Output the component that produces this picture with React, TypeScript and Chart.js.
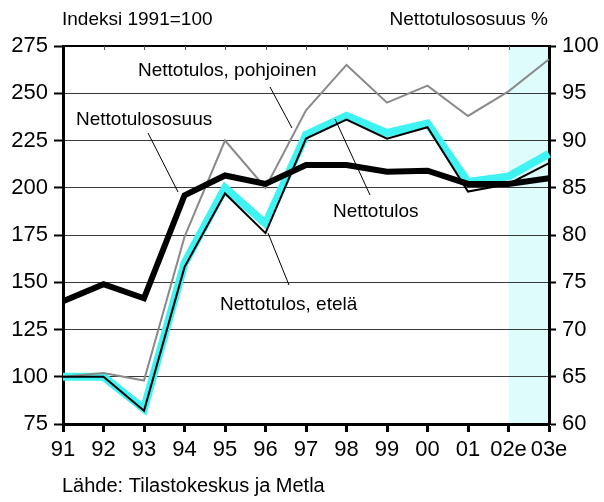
import React, { useEffect, useRef } from "react";
import { Chart, registerables } from "chart.js";

Chart.register(...registerables);

const years = ["91", "92", "93", "94", "95", "96", "97", "98", "99", "00", "01", "02e", "03e"];
const nettotulos = [100, 100, 82, 158, 197, 176, 226, 236, 226, 232, 198, 202, 213];
const nettotulosEtela = [100, 100, 83, 160, 200, 181, 228, 238, 229, 234, 203, 206, 218];
const nettotulosPohjoinen = [100, 102, 98, 174, 225, 200, 241, 265, 245, 254, 238, 251, 268];
const nettotulososuus = [73.0, 74.8, 73.3, 84.2, 86.3, 85.4, 87.4, 87.4, 86.7, 86.8, 85.4, 85.4, 86.0];

const leftTicks = [75, 100, 125, 150, 175, 200, 225, 250, 275];
const rightTicks = [60, 65, 70, 75, 80, 85, 90, 95, 100];

const FONT = "'Liberation Sans', Arial, sans-serif";

const labels = [
  { text: "Nettotulos, pohjoinen", x: 138, y: 71, line: [270, 87, 292, 128] },
  { text: "Nettotulososuus", x: 76, y: 120, line: [148, 133, 178, 192] },
  { text: "Nettotulos", x: 333, y: 212, line: [370, 195, 335, 119] },
  { text: "Nettotulos, etelä", x: 220, y: 305, line: [268, 233, 289, 285] },
];

const decoPlugin = {
  id: "deco",
  beforeDraw(chart: any) {
    const { ctx, chartArea, scales } = chart;
    const x = scales.x;
    const x0 = x.getPixelForValue(11);
    const x1 = x.getPixelForValue(12);
    ctx.save();
    ctx.fillStyle = "#defcfc";
    ctx.fillRect(x0, chartArea.top, x1 - x0, chartArea.bottom - chartArea.top);
    ctx.restore();
  },
  afterDraw(chart: any) {
    const { ctx, chartArea, scales } = chart;
    ctx.save();
    ctx.strokeStyle = "#000";
    ctx.lineWidth = 2;
    ctx.beginPath();
    ctx.moveTo(chartArea.left, chartArea.top);
    ctx.lineTo(chartArea.right, chartArea.top);
    ctx.stroke();
    ctx.lineWidth = 1;
    ctx.strokeStyle = "#555";
    for (let i = 1; i < years.length - 1; i++) {
      const px = Math.round(scales.x.getPixelForValue(i)) + 0.5;
      ctx.beginPath();
      ctx.moveTo(px, chartArea.top);
      ctx.lineTo(px, chartArea.top + 4);
      ctx.stroke();
    }
    ctx.fillStyle = "#000";
    ctx.textBaseline = "middle";
    ctx.font = `19px ${FONT}`;
    ctx.textAlign = "left";
    for (const l of labels) {
      ctx.fillText(l.text, l.x, l.y);
      ctx.strokeStyle = "#000";
      ctx.lineWidth = 1;
      ctx.beginPath();
      ctx.moveTo(l.line[0], l.line[1]);
      ctx.lineTo(l.line[2], l.line[3]);
      ctx.stroke();
    }
    ctx.font = `19px ${FONT}`;
    ctx.textAlign = "left";
    ctx.fillText("Indeksi 1991=100", 62, 20);
    ctx.textAlign = "right";
    ctx.fillText("Nettotulososuus %", 548, 20);
    ctx.font = `20px ${FONT}`;
    ctx.textAlign = "left";
    ctx.fillText("Lähde: Tilastokeskus ja Metla", 62, 486);
    ctx.restore();
  },
};

export default function App() {
  const ref = useRef<HTMLCanvasElement>(null);
  useEffect(() => {
    if (!ref.current) return;
    const chart = new Chart(ref.current, {
      type: "line",
      data: {
        labels: years,
        datasets: [
          {
            label: "Nettotulos, etelä",
            data: nettotulosEtela,
            borderColor: "#3ff3f3",
            borderWidth: 8,
            pointRadius: 0,
            tension: 0,
            yAxisID: "y",
            order: 4,
          },
          {
            label: "Nettotulos, pohjoinen",
            data: nettotulosPohjoinen,
            borderColor: "#8a8a8a",
            borderWidth: 2,
            pointRadius: 0,
            tension: 0,
            yAxisID: "y",
            order: 3,
          },
          {
            label: "Nettotulososuus",
            data: nettotulososuus,
            borderColor: "#000",
            borderWidth: 6,
            pointRadius: 0,
            tension: 0,
            yAxisID: "y2",
            order: 2,
          },
          {
            label: "Nettotulos",
            data: nettotulos,
            borderColor: "#000",
            borderWidth: 2,
            pointRadius: 0,
            tension: 0,
            yAxisID: "y",
            order: 1,
          },
        ],
      },
      options: {
        animation: false,
        responsive: false,
        maintainAspectRatio: false,
        layout: { padding: { top: 46, left: 0, right: 0, bottom: 0 } },
        plugins: { legend: { display: false }, tooltip: { enabled: false } },
        scales: {
          x: {
            type: "category",
            offset: false,
            grid: { drawOnChartArea: false, tickLength: 8, tickWidth: 3, tickColor: "#000" },
            border: { color: "#000", width: 3 },
            ticks: { color: "#000", font: { family: FONT, size: 22 }, padding: 5, maxRotation: 0, autoSkip: false },
            afterFit: (s: any) => { s.height = 78; },
          },
          y: {
            position: "left",
            min: 75,
            max: 275,
            afterBuildTicks: (s: any) => { s.ticks = leftTicks.map((v) => ({ value: v })); },
            grid: { color: "#3a3a3a", lineWidth: 1, tickLength: 9, tickWidth: 2, tickColor: "#000" },
            border: { color: "#000", width: 3 },
            ticks: { color: "#000", font: { family: FONT, size: 22 }, padding: 6 },
            afterFit: (s: any) => { s.width = 63; },
          },
          y2: {
            position: "right",
            min: 60,
            max: 100,
            afterBuildTicks: (s: any) => { s.ticks = rightTicks.map((v) => ({ value: v })); },
            grid: { drawOnChartArea: false, tickLength: 7, tickWidth: 2, tickColor: "#000" },
            border: { color: "#000", width: 3 },
            ticks: { color: "#000", font: { family: FONT, size: 22 }, padding: 6 },
            afterFit: (s: any) => { s.width = 55; },
          },
        },
      },
      plugins: [decoPlugin],
    } as any);
    return () => chart.destroy();
  }, []);
  return (
    <div style={{ position: "fixed", left: 0, top: 0, width: 604, height: 502, background: "#fff" }}>
      <canvas ref={ref} width={604} height={502} style={{ width: 604, height: 502, display: "block" }} />
    </div>
  );
}
